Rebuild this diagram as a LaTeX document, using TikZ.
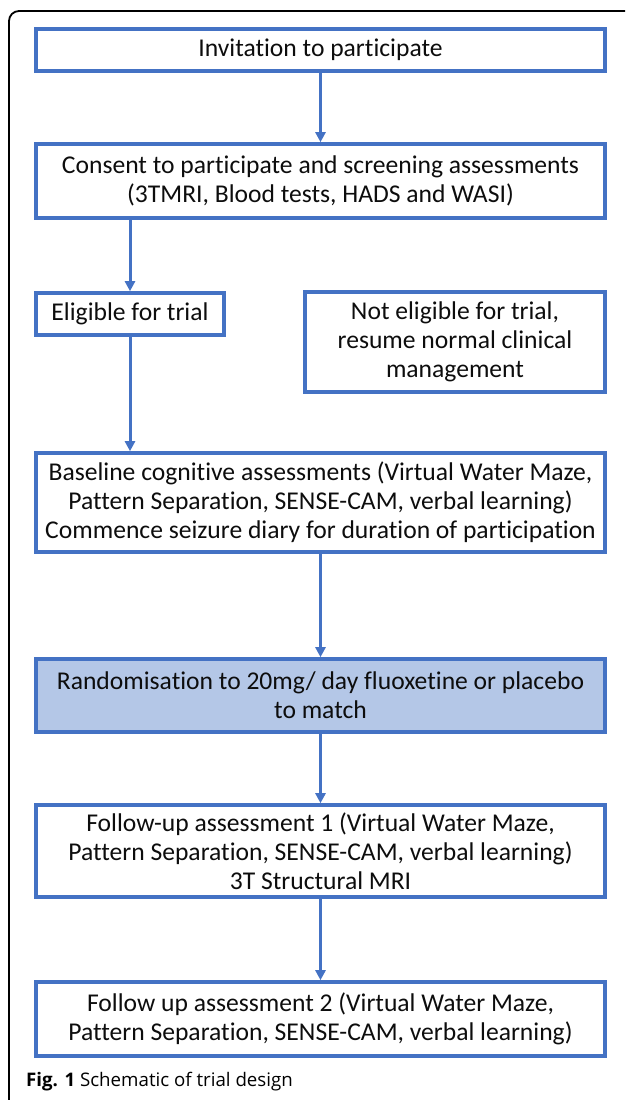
\documentclass[tikz,border=0pt]{standalone}
\usepackage{fontspec}
\setmainfont{Carlito}[Ligatures=NoCommon]
\newfontfamily\capfont{Open Sans}
\usetikzlibrary{arrows.meta}
\definecolor{boxblue}{HTML}{4472C4}
\definecolor{boxfill}{HTML}{B4C7E7}
\tikzset{
  fbox/.style={draw=boxblue, line width=3.6pt, fill=white, inner sep=0pt, align=center,
    font=\fontsize{25.6}{29}\selectfont, text=black!95},
  arr/.style={draw=boxblue, line width=3pt, -{Triangle[length=10pt,width=10pt]}},
}
\begin{document}
\begin{tikzpicture}[x=1pt,y=-1pt]
\useasboundingbox (0,0) rectangle (625,1100);
\clip (0,0) rectangle (625,1100);
\draw[line width=1.8pt, rounded corners=10pt] (640,11) -- (9,11) -- (9,1120);

\node[fbox, minimum width=569pt, minimum height=42pt] (b1) at (320.5,50) {Invitation to participate};
\node[fbox, minimum width=569pt, minimum height=74pt] (b2) at (320.5,181) {Consent to participate and screening assessments\\(3TMRI, Blood tests, HADS and WASI)};
\node[fbox, minimum width=188pt, minimum height=42pt] (el) at (130,314) {Eligible for trial};
\node[fbox, minimum width=300pt, minimum height=100pt] (ne) at (455,342) {Not eligible for trial,\\resume normal clinical\\management};
\node[fbox, minimum width=569pt, minimum height=99pt] (b4) at (320.5,502.5) {Baseline cognitive assessments (Virtual Water Maze,\\Pattern Separation, SENSE-CAM, verbal learning)\\Commence seizure diary for duration of participation};
\node[fbox, fill=boxfill, minimum width=569pt, minimum height=73pt] (b5) at (320.5,695.5) {Randomisation to 20mg/ day fluoxetine or placebo\\to match};
\node[fbox, minimum width=569pt, minimum height=92pt] (b6) at (320.5,851) {Follow-up assessment 1 (Virtual Water Maze,\\Pattern Separation, SENSE-CAM, verbal learning)\\3T Structural MRI};
\node[fbox, minimum width=569pt, minimum height=74pt] (b7) at (320.5,1019) {Follow up assessment 2 (Virtual Water Maze,\\Pattern Separation, SENSE-CAM, verbal learning)};

\draw[arr] (b1) -- (b2);
\draw[arr] (b2.south -| el) -- (el);
\draw[arr] (el) -- (el |- b4.north);
\draw[arr] (b4) -- (b5);
\draw[arr] (b5) -- (b6);
\draw[arr] (b6) -- (b7);

\node[anchor=west, inner sep=0pt, font=\capfont\fontsize{18.7}{22}\selectfont] (cap) at (26,1082) {\textbf{Fig. 1} Schematic of trial design};
\end{tikzpicture}
\end{document}
